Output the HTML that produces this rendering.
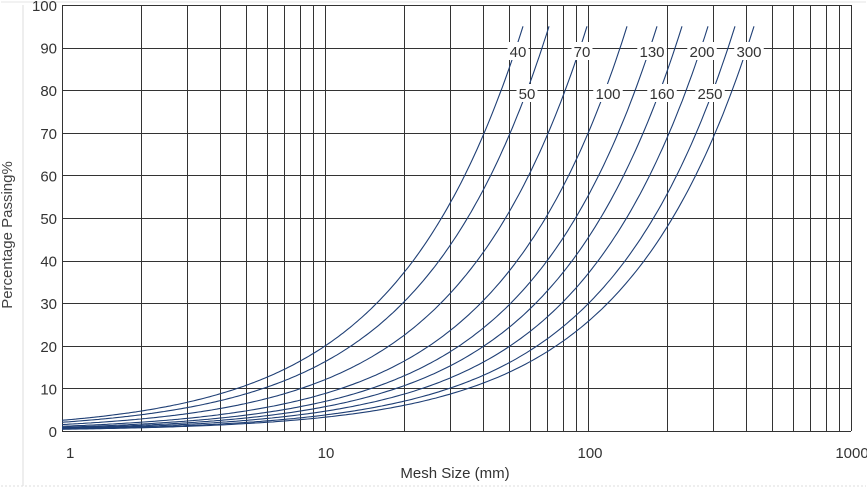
<!DOCTYPE html>
<html><head><meta charset="utf-8"><style>
html,body{margin:0;padding:0;background:#fff;}
svg{display:block;font-family:"Liberation Sans",sans-serif;}
</style></head><body>
<svg id="c" width="867" height="491" viewBox="0 0 867 491" xmlns="http://www.w3.org/2000/svg">
<rect width="867" height="491" fill="#fff"/>
<line x1="1" y1="2" x2="866" y2="2" stroke="#e6e6e6"/>
<line x1="23" y1="5" x2="23" y2="486" stroke="#ddd"/>
<line x1="1" y1="486" x2="866" y2="486" stroke="#ddd" stroke-dasharray="2,2"/>
<g id="grid" stroke="#333" stroke-width="1"></g>
<g id="curves" fill="none" stroke="#1f3f75" stroke-width="1.1"></g>
<g id="labels" font-size="15" fill="#333"></g>
<text x="12" y="235" font-size="15" fill="#444" text-anchor="middle" transform="rotate(-90 12 235)">Percentage Passing%</text>
<text x="455" y="478" font-size="15" fill="#333" text-anchor="middle">Mesh Size (mm)</text>
</svg>
<script>
var L=62,R=851,T=5,B=431,dec=(R-L)/3;
function X(d){return L+Math.log10(d)*dec;}
function Y(p){return B-(B-T)*p/100;}
var ns="http://www.w3.org/2000/svg";
function el(p,n,a,t){var e=document.createElementNS(ns,n);for(var k in a)e.setAttribute(k,a[k]);if(t!==undefined)e.textContent=t;p.appendChild(e);return e;}
var g=document.getElementById('grid');
for(var e=0;e<3;e++)for(var m=1;m<10;m++){var x=Math.round(X(m*Math.pow(10,e)))+0.5;el(g,'line',{x1:x,y1:T,x2:x,y2:B});}
el(g,'line',{x1:R+0.5,y1:T,x2:R+0.5,y2:B});
for(var p=0;p<=100;p+=10){var y=Math.round(Y(p))+0.5;el(g,'line',{x1:L,y1:y,x2:R,y2:y});}
var lb=document.getElementById('labels');
for(var p=0;p<=100;p+=10)el(lb,'text',{x:57,y:Y(p)+6,'text-anchor':'end'},p);
[[1,66,'start'],[10,326,'middle'],[100,590,'middle'],[1000,852,'middle']].forEach(function(a){el(lb,'text',{x:a[1],y:458,'text-anchor':a[2]},a[0]);});
var ends=[523,549,587,627,657,682,708,735,754],n=0.9;
var cg=document.getElementById('curves');
ends.forEach(function(xe){var de=Math.pow(10,(xe-L)/dec);var D=de/Math.pow(0.95,1/n);var s='';
for(var i=0;i<=200;i++){var d=Math.pow(10,Math.log10(de)*i/200);var pp=100*Math.pow(d/D,n);s+=(i?'L':'M')+X(d).toFixed(1)+' '+Y(pp).toFixed(1);}
el(cg,'path',{d:s});});
[['40',518,51],['70',582,51],['130',652,51],['200',702,51],['300',749,51],['50',527,93],['100',608,93],['160',662,93],['250',710,93]].forEach(function(a){
var w=a[0].length*8.5+4;el(lb,'rect',{x:a[1]-w/2,y:a[2]-9,width:w,height:18,fill:'#fff'});
el(lb,'text',{x:a[1],y:a[2]+6,'text-anchor':'middle'},a[0]);});
</script>
</body></html>
